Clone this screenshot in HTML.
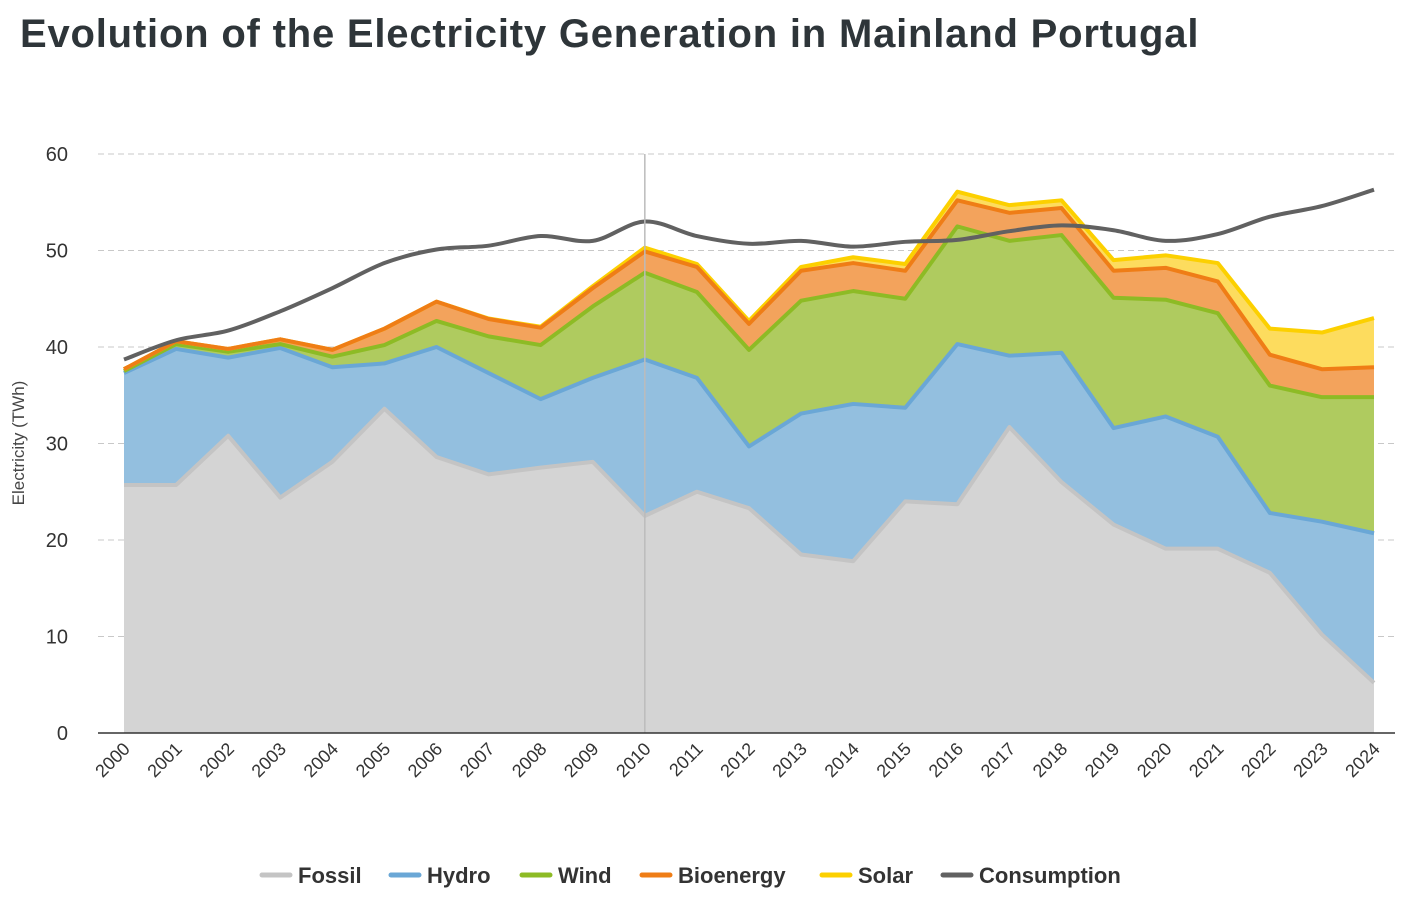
<!DOCTYPE html>
<html><head><meta charset="utf-8">
<style>
body{margin:0;background:#fff;width:1405px;height:900px;overflow:hidden;font-family:"Liberation Sans",sans-serif;}
#title{position:absolute;left:20px;top:12px;font-size:40px;font-weight:bold;color:#2e3539;letter-spacing:0.8px;margin:0;white-space:nowrap}
svg{position:absolute;left:0;top:0}
</style></head><body>
<h1 id="title">Evolution of the Electricity Generation in Mainland Portugal</h1>
<svg id="chart" width="1405" height="900"></svg>
<script>
const years=[2000,2001,2002,2003,2004,2005,2006,2007,2008,2009,2010,2011,2012,2013,2014,2015,2016,2017,2018,2019,2020,2021,2022,2023,2024];
const fossil=[25.7,25.7,30.8,24.4,28.1,33.6,28.6,26.8,27.5,28.1,22.5,25.0,23.3,18.5,17.8,24.0,23.7,31.7,26.0,21.6,19.1,19.1,16.6,10.2,5.2];
const hydro=[11.6,14.1,8.1,15.5,9.8,4.7,11.4,10.5,7.1,8.7,16.2,11.8,6.4,14.6,16.3,9.7,16.6,7.4,13.4,10.0,13.7,11.6,6.2,11.7,15.5];
const wind=[0.2,0.5,0.6,0.4,1.1,1.9,2.7,3.8,5.6,7.4,9.0,8.9,10.0,11.7,11.7,11.3,12.2,11.9,12.2,13.5,12.1,12.8,13.2,12.9,14.1];
const bioenergy=[0.2,0.3,0.3,0.5,0.7,1.7,2.0,1.8,1.8,1.9,2.2,2.6,2.7,3.1,2.9,2.9,2.7,2.9,2.8,2.8,3.3,3.3,3.2,2.9,3.1];
const solar=[0,0,0,0,0,0,0,0.05,0.1,0.2,0.4,0.3,0.3,0.4,0.6,0.7,0.9,0.8,0.8,1.1,1.3,1.9,2.7,3.8,5.1];
const consumption=[38.7,40.7,41.7,43.7,46.1,48.7,50.1,50.5,51.5,51.0,53.0,51.5,50.7,51.0,50.4,50.9,51.1,52.0,52.6,52.1,51.0,51.7,53.5,54.6,56.3];
const yTicks=[0,10,20,30,40,50,60];

const NS='http://www.w3.org/2000/svg';
const svg=document.getElementById('chart');
const X0=124,X1=1374,Y0=733,Y60=154;
const x=i=>X0+(X1-X0)*i/(years.length-1);
const y=v=>Y0-(Y0-Y60)*v/60;
function mk(t,a,p){const e=document.createElementNS(NS,t);for(const k in a)e.setAttribute(k,a[k]);(p||svg).appendChild(e);return e;}

yTicks.forEach(t=>{
  if(t>0){const g=mk('line',{x1:98,x2:1395,y1:y(t),y2:y(t),stroke:'#c8c8c8','stroke-dasharray':'6,4','stroke-width':1});
  
  }
  const tx=mk('text',{x:68,y:y(t)+7,'text-anchor':'end','font-size':20,fill:'#333'});
  tx.textContent=t;
  
  
});
const yt=mk('text',{transform:'translate(24,443) rotate(-90)','text-anchor':'middle','font-size':17,fill:'#444'});
yt.textContent='Electricity (TWh)';



const series=[
 {n:'fossil',d:fossil,fill:'#d4d4d4',line:'#c4c4c4'},
 {n:'hydro',d:hydro,fill:'#93bfdf',line:'#6aa7d6'},
 {n:'wind',d:wind,fill:'#afcb5f',line:'#8dbb25'},
 {n:'bioenergy',d:bioenergy,fill:'#f3a35c',line:'#ef7d16'},
 {n:'solar',d:solar,fill:'#fddc5e',line:'#fcd000'}];
let base=years.map(()=>0);
const tops=[];
series.forEach(s=>{
  const top=base.map((b,i)=>b+s.d[i]);
  let p='M'+years.map((_,i)=>x(i)+','+y(top[i])).join('L');
  for(let i=years.length-1;i>=0;i--)p+='L'+x(i)+','+y(base[i]);
  const a=mk('path',{d:p+'Z',fill:s.fill});
  
  
  tops.push({s,top});
  base=top;
});
[tops[0],tops[1],tops[2],tops[4],tops[3]].forEach(({s,top})=>{
  const l=mk('path',{d:'M'+years.map((_,i)=>x(i)+','+y(top[i])).join('L'),fill:'none',stroke:s.line,'stroke-width':4,'stroke-linejoin':'round'});
  
  
});
function smooth(pts){let d='M'+pts[0][0]+','+pts[0][1];
 for(let i=0;i<pts.length-1;i++){const p0=pts[i-1]||pts[i],p1=pts[i],p2=pts[i+1],p3=pts[i+2]||p2;
  d+=`C${p1[0]+(p2[0]-p0[0])/6},${p1[1]+(p2[1]-p0[1])/6} ${p2[0]-(p3[0]-p1[0])/6},${p2[1]-(p3[1]-p1[1])/6} ${p2[0]},${p2[1]}`;}
 return d;}
const cl=mk('path',{d:smooth(consumption.map((v,i)=>[x(i),y(v)])),fill:'none',stroke:'#616161','stroke-width':4});


const ch=mk('line',{x1:x(10),x2:x(10),y1:154,y2:733,stroke:'#bbb','stroke-width':1.5});


const ax=mk('line',{x1:98,x2:1395,y1:Y0,y2:Y0,stroke:'#333','stroke-width':1.5});


years.forEach((yr,i)=>{
  const t=mk('text',{transform:`translate(${x(i)+7},${750}) rotate(-45)`,'text-anchor':'end','font-size':18,fill:'#333'});
  t.textContent=yr;
  
  
});
const leg=[['Fossil','#c4c4c4',262],['Hydro','#6aa7d6',391],['Wind','#8dbb25',522],['Bioenergy','#ef7d16',642],['Solar','#fcd000',822],['Consumption','#616161',943]];
leg.forEach(([n,c,lx])=>{
  const g=mk('g',{});
  
  
  mk('line',{x1:lx,x2:lx+28,y1:875,y2:875,stroke:c,'stroke-width':5,'stroke-linecap':'round'},g);
  const t=mk('text',{x:lx+36,y:883,'font-size':22,'font-weight':'bold',fill:'#333'},g);
  t.textContent=n;
});
</script>
</body></html>
